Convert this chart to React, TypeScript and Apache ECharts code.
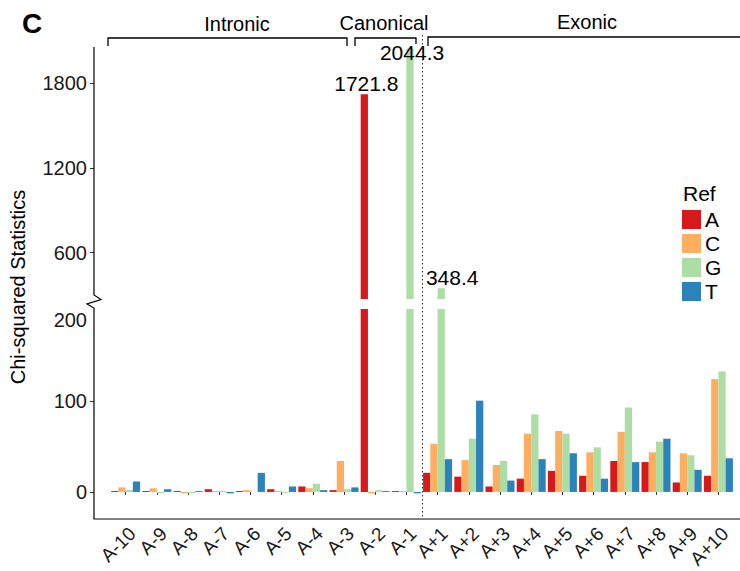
import React, { useEffect, useRef } from 'react';
import * as echarts from 'echarts';

const categories = ['A-10', 'A-9', 'A-8', 'A-7', 'A-6', 'A-5', 'A-4', 'A-3', 'A-2', 'A-1',
  'A+1', 'A+2', 'A+3', 'A+4', 'A+5', 'A+6', 'A+7', 'A+8', 'A+9', 'A+10'];
const refA = [1, 1, 1, 3, 1, 3, 6, 2, 1721.8, 1, 21, 16.8, 6, 14.6, 23.2, 17.8, 34, 32.8, 10.4, 17.8];
const refC = [5, 4, -1.5, 1, 2, 1, 4, 34, -1.5, 1, 53, 35, 29.6, 64, 67, 43.5, 66, 43.5, 42.5, 124];
const refG = [2, -1.5, -1.5, 1, 0, -1, 9, 3, 2, 2044.3, 348.4, 58.5, 34, 85.3, 64, 49, 92.8, 55.3, 40.3, 132.4];
const refT = [11.5, 3, 1, -1.5, 21, 6, 2, 5, 1, -1.5, 36, 100.3, 12.5, 36, 42.5, 14.6, 32.8, 58.5, 24.3, 37];
const refNames = ['A', 'C', 'G', 'T'];
const refColors = ['#D7191C', '#FDAE61', '#ABDDA4', '#2B83BA'];
const upperTicks = [600, 1200, 1800];
const lowerTicks = [0, 100];
const regions = ['Intronic', 'Canonical', 'Exonic'];

const FONT = '"Liberation Sans", Arial, Helvetica, sans-serif';
const UPPER_MIN = 272;
const UPPER_MAX = 2057;
const LOWER_MIN = -23.9;
const LOWER_MAX = 201;

// label placement tweaks (style only)
const labelTweaks: Record<string, any> = {
  '0-8': { offset: [2, 0] },
  '2-9': { offset: [2, 14] },
  '2-10': { offset: [11, 0] },
};

export default function App() {
  const ref = useRef<HTMLDivElement>(null);
  useEffect(() => {
    if (!ref.current) return;
    const chart = echarts.init(ref.current, undefined, { renderer: 'svg' });
    const all = [refA, refC, refG, refT];
    const series: any[] = [];
    all.forEach((vals, si) => {
      series.push({
        name: refNames[si],
        type: 'bar',
        xAxisIndex: 1,
        yAxisIndex: 1,
        data: vals,
        barGap: '0%',
        barCategoryGap: '7%',
        itemStyle: { color: refColors[si] },
        clip: true,
      });
    });
    all.forEach((vals, si) => {
      series.push({
        name: refNames[si],
        type: 'bar',
        xAxisIndex: 0,
        yAxisIndex: 0,
        data: vals.map((v, i) => {
          if (v <= UPPER_MIN) return '-';
          const t = labelTweaks[si + '-' + i] || {};
          return { value: v, label: { show: true, ...t } };
        }),
        barGap: '0%',
        barCategoryGap: '7%',
        itemStyle: { color: refColors[si] },
        clip: true,
        label: {
          show: false,
          position: 'top',
          distance: 0,
          fontSize: 21,
          fontFamily: FONT,
          color: '#000',
          formatter: (p: any) => Number(p.value).toFixed(1),
        },
      });
    });

    const regionText = (text: string, cx: number, cy: number) => ({
      type: 'text',
      x: cx,
      y: cy,
      style: { text, fill: '#000', font: `20px ${FONT}`, textAlign: 'center', textVerticalAlign: 'middle' },
    });
    const bracket = (pts: number[][]) => ({
      type: 'polyline',
      shape: { points: pts },
      style: { stroke: '#000', lineWidth: 1.3, fill: 'none' },
    });
    const plain = (v: number) => String(v);

    chart.setOption({
      animation: false,
      backgroundColor: '#fff',
      grid: [
        { left: 110, right: 6, top: 47, height: 252 },
        { left: 110, right: 6, top: 309, height: 210 },
      ],
      xAxis: [
        {
          type: 'category', gridIndex: 0, data: categories, boundaryGap: true,
          axisLine: { show: false }, axisTick: { show: false }, axisLabel: { show: false },
        },
        {
          type: 'category', gridIndex: 1, data: categories, boundaryGap: true,
          axisLine: { show: false },
          axisTick: { show: true, alignWithLabel: true, length: 3, lineStyle: { color: '#333' } },
          axisLabel: {
            rotate: 45, fontSize: 19, margin: 10, color: '#1a1a1a', fontFamily: FONT, interval: 0,
            verticalAlign: 'top',
          },
        },
      ],
      yAxis: [
        {
          type: 'value', gridIndex: 0, min: UPPER_MIN, max: UPPER_MAX, offset: 16,
          axisLine: { show: false },
          splitLine: { show: false },
          axisTick: { show: true, length: 4, customValues: upperTicks, lineStyle: { color: '#333' } },
          axisLabel: { customValues: upperTicks, formatter: plain, fontSize: 20, margin: 7, color: '#1a1a1a', fontFamily: FONT },
        },
        {
          type: 'value', gridIndex: 1, min: LOWER_MIN, max: LOWER_MAX, offset: 16,
          axisLine: { show: false },
          splitLine: { show: false },
          axisTick: { show: true, length: 4, customValues: lowerTicks, lineStyle: { color: '#333' } },
          axisLabel: { customValues: lowerTicks, formatter: plain, fontSize: 20, margin: 7, color: '#1a1a1a', fontFamily: FONT },
        },
      ],
      legend: {
        data: refNames,
        orient: 'vertical',
        left: 682,
        top: 209,
        itemWidth: 19,
        itemHeight: 19,
        itemGap: 3,
        icon: 'rect',
        padding: 0,
        textStyle: { fontSize: 21, fontFamily: FONT, color: '#000', padding: [0, 0, 0, -1] },
        selectedMode: false,
      },
      series,
      graphic: [
        {
          type: 'text', left: 22, top: 9,
          style: { text: 'C', fill: '#000', font: `bold 28px ${FONT}` },
        },
        bracket([[108, 46], [108, 38], [347, 38], [347, 46]]),
        bracket([[355, 46], [355, 38], [416, 38], [416, 44]]),
        bracket([[428, 46], [428, 37], [740, 37]]),
        regionText(regions[0], 237, 24),
        regionText(regions[1], 384, 23),
        regionText(regions[2], 587, 22),
        {
          type: 'line', z: 10,
          shape: { x1: 422.5, y1: 35, x2: 422.5, y2: 519 },
          style: { stroke: '#333', lineWidth: 1, lineDash: [1.5, 2.5] },
        },
        {
          type: 'polyline', z: 10,
          shape: { points: [[94, 47], [94, 295], [101, 299.5], [87, 304], [94, 308], [94, 519]] },
          style: { stroke: '#000', lineWidth: 1.2, fill: 'none' },
        },
        {
          type: 'line', z: 10,
          shape: { x1: 93.5, y1: 519, x2: 740, y2: 519 },
          style: { stroke: '#000', lineWidth: 1.2 },
        },
        {
          type: 'text', x: 87, y: 320,
          style: { text: '200', fill: '#1a1a1a', font: `20px ${FONT}`, textAlign: 'right', textVerticalAlign: 'middle' },
        },
        {
          type: 'text', x: 18, y: 287, rotation: Math.PI / 2,
          style: { text: 'Chi-squared Statistics', fill: '#000', font: `20px ${FONT}`, textAlign: 'center', textVerticalAlign: 'middle' },
        },
        {
          type: 'text', left: 683, top: 183,
          style: { text: 'Ref', fill: '#000', font: `21px ${FONT}` },
        },
      ],
    });
    return () => chart.dispose();
  }, []);
  return <div ref={ref} style={{ position: 'fixed', left: 0, top: 0, width: 740, height: 571, background: '#fff' }} />;
}
